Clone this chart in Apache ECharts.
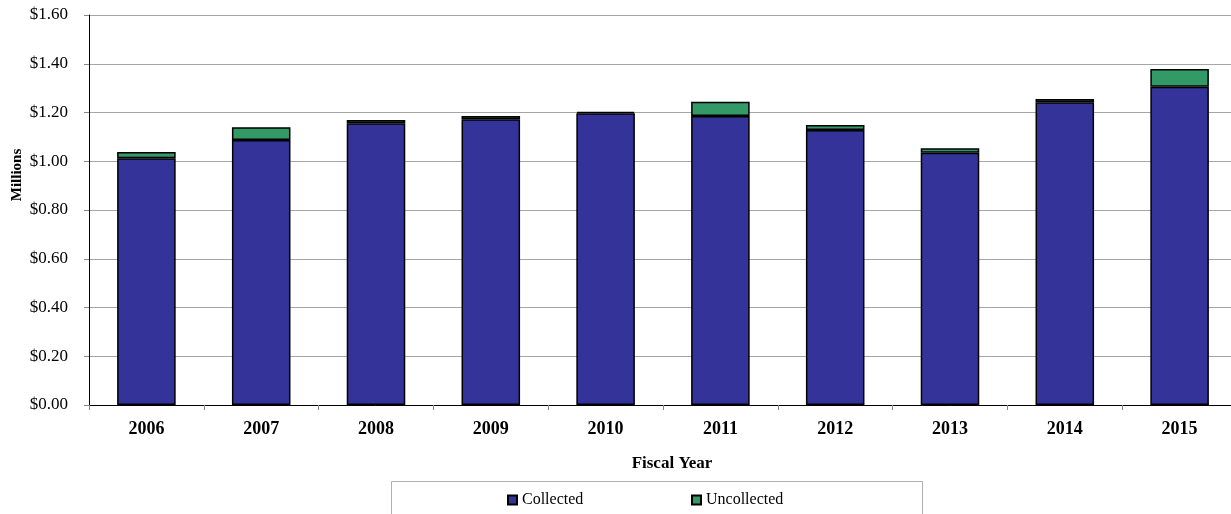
<!DOCTYPE html>
<html><head><meta charset="utf-8">
<script src="https://cdn.jsdelivr.net/npm/echarts@6/dist/echarts.min.js"></script>
<style>html,body{margin:0;padding:0;background:#fff;overflow:hidden}#c{width:1240px;height:514px}</style>
</head><body><div id="c"></div>
<script>
var years = ['2006','2007','2008','2009','2010','2011','2012','2013','2014','2015'];
var collected = [1.012, 1.087, 1.156, 1.172, 1.197, 1.186, 1.128, 1.035, 1.242, 1.306];
var uncollected = [0.026, 0.052, 0.013, 0.014, 0.006, 0.058, 0.021, 0.018, 0.013, 0.072];
var yTicks = [0, 0.2, 0.4, 0.6, 0.8, 1.0, 1.2, 1.4, 1.6];

var serif = '"Liberation Serif", "DejaVu Serif", serif';
var chart = echarts.init(document.getElementById('c'));
chart.setOption({
  animation: false,
  grid: {left: 89, width: 1148, top: 15, bottom: 109},
  legend: [
    {data: ['Collected'], left: 507, top: 492, itemWidth: 9, itemHeight: 9, itemGap: 2, icon: 'rect',
     textStyle: {fontFamily: serif, fontSize: 16, color: '#000'}, padding: 0},
    {data: ['Uncollected'], left: 691, top: 492, itemWidth: 9, itemHeight: 9, itemGap: 2, icon: 'rect',
     textStyle: {fontFamily: serif, fontSize: 16, color: '#000'}, padding: 0}
  ],
  graphic: [
    {type: 'rect', shape: {x: 391.5, y: 481.5, width: 531, height: 40}, style: {fill: 'none', stroke: '#b0b0b0', lineWidth: 1}},
    {type: 'text', x: 17, y: 175, rotation: Math.PI / 2, style: {text: 'Millions', font: 'bold 15px ' + serif, fill: '#000', align: 'center', verticalAlign: 'middle'}}
  ],
  xAxis: {
    type: 'category', data: years,
    name: 'Fiscal Year', nameLocation: 'middle', nameGap: 50,
    nameTextStyle: {fontFamily: serif, fontSize: 17, fontWeight: 'bold', color: '#000', padding: [0, 0, 0, 18]},
    axisLine: {lineStyle: {color: '#000', width: 1}},
    axisTick: {show: true, length: 5, lineStyle: {color: '#888'}},
    axisLabel: {fontFamily: serif, fontSize: 18, fontWeight: 'bold', color: '#000', margin: 15}
  },
  yAxis: {
    type: 'value', min: 0, max: 1.6, interval: 0.2,
    axisLine: {show: true, lineStyle: {color: '#000', width: 1}},
    axisTick: {show: true, length: 5, lineStyle: {color: '#888'}},
    splitLine: {lineStyle: {color: '#a6a6a6', width: 1}},
    axisLabel: {fontFamily: serif, fontSize: 17, color: '#000', margin: 21,
      formatter: function (v) { return '$' + v.toFixed(2); }}
  },
  series: [
    {name: 'Collected', type: 'bar', stack: 't', data: collected, barWidth: '51%',
     itemStyle: {color: '#333399', borderColor: '#000', borderWidth: 1.5}},
    {name: 'Uncollected', type: 'bar', stack: 't', data: uncollected, barWidth: '51%',
     itemStyle: {color: '#339966', borderColor: '#000', borderWidth: 1.5}}
  ]
});
</script></body></html>
